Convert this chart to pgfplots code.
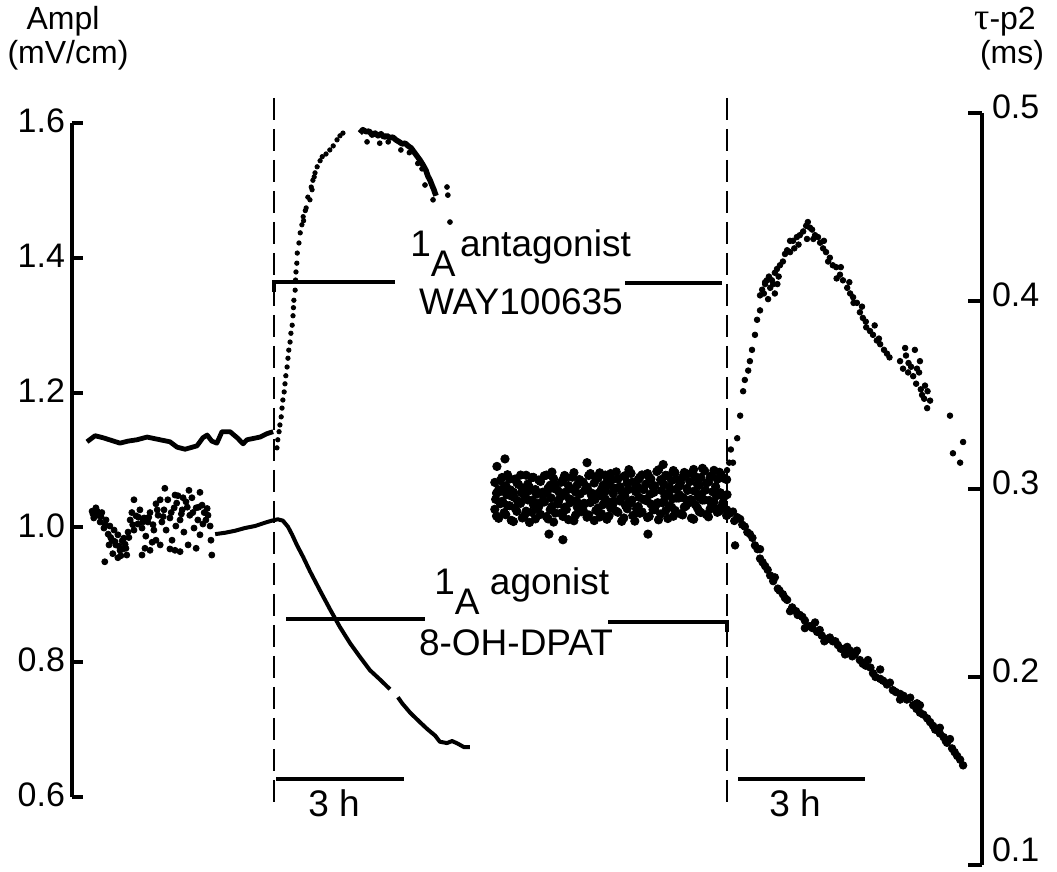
\documentclass[border=0pt]{standalone}
\usepackage{pgfplots}
\usepackage{pgfplotstable}
\pgfplotsset{compat=1.18}
\usepackage{fontspec}
\setmainfont{Liberation Sans}
\newfontfamily\greekfont{Liberation Serif}

% ---------- Ampl (mV/cm), antagonist experiment ----------
\pgfplotstableread{
h A
-4.42 1.127
-4.23 1.136
-4.04 1.133
-3.64 1.125
-3.45 1.128
-3.24 1.130
-3.00 1.134
-2.77 1.131
-2.46 1.127
-2.29 1.119
-2.10 1.116
-1.82 1.121
-1.68 1.133
-1.58 1.137
-1.47 1.128
-1.35 1.125
-1.23 1.142
-1.04 1.142
-0.87 1.133
-0.73 1.124
-0.64 1.130
-0.33 1.134
-0.17 1.139
-0.02 1.142
}\ampAbase

\pgfplotstableread{
h A
0.07 1.118
0.09 1.130
0.12 1.142
0.14 1.152
0.17 1.164
0.19 1.177
0.21 1.189
0.24 1.201
0.26 1.213
0.28 1.225
0.31 1.238
0.33 1.251
0.35 1.263
0.38 1.275
0.40 1.288
0.43 1.300
0.45 1.314
0.46 1.326
0.47 1.337
0.50 1.352
0.51 1.367
0.52 1.379
0.54 1.392
0.55 1.407
0.59 1.422
0.62 1.437
0.66 1.449
0.69 1.461
0.70 1.455
0.74 1.470
0.76 1.474
0.80 1.490
0.85 1.486
0.88 1.505
0.90 1.501
0.92 1.515
0.95 1.520
0.97 1.526
1.02 1.535
1.09 1.544
1.14 1.550
1.23 1.554
1.32 1.560
1.40 1.566
1.49 1.575
1.56 1.581
1.63 1.585
}\ampArise

\pgfplotstableread{
h A
2.03 1.585
2.10 1.590
2.18 1.587
2.25 1.588
2.32 1.582
2.39 1.585
2.46 1.581
2.53 1.584
2.60 1.579
2.67 1.581
2.74 1.578
2.81 1.579
2.88 1.575
2.96 1.572
3.03 1.569
3.10 1.570
3.17 1.566
3.24 1.563
3.31 1.557
3.38 1.551
3.45 1.545
3.52 1.538
3.59 1.530
3.64 1.521
3.69 1.515
3.74 1.507
3.78 1.501
3.83 1.492
}\ampAtop

\pgfplotstableread{
h A
2.20 1.572
2.50 1.570
2.70 1.572
3.00 1.560
3.20 1.556
3.40 1.540
3.50 1.532
3.57 1.508
3.76 1.486
4.09 1.505
4.11 1.493
4.16 1.453
}\ampAstray

% ---------- Ampl (mV/cm), agonist experiment ----------
\pgfplotstableread{
h A
-4.30 1.024
-4.26 1.014
-4.21 1.029
-4.16 1.018
-4.11 1.008
-4.07 1.022
-4.02 0.999
-3.97 1.011
-3.92 0.990
-3.88 1.002
-3.83 0.981
-3.78 0.996
-3.74 0.974
-3.69 0.989
-3.64 0.966
-3.59 0.980
-3.55 0.984
-3.50 0.969
-3.45 0.993
-3.90 0.974
-4.00 0.949
-3.81 0.961
-3.69 0.955
-3.62 0.958
-3.48 0.959
-3.40 1.011
-3.36 1.022
-3.31 0.996
-3.26 1.017
-3.22 1.005
-3.17 1.026
-3.12 0.999
-3.07 1.014
-3.03 0.987
-2.98 1.008
-2.93 1.022
-2.88 0.978
-2.84 0.996
-2.79 1.035
-2.74 1.018
-2.69 1.041
-2.69 0.974
-2.93 0.966
-3.05 0.969
-3.12 0.959
-2.65 1.008
-2.60 1.026
-2.55 0.996
-2.51 1.041
-2.46 1.014
-2.41 0.981
-2.36 1.029
-2.32 1.002
-2.27 1.047
-2.22 1.011
-2.17 1.026
-2.13 0.993
-2.08 1.038
-2.03 0.974
-1.99 1.018
-1.94 1.044
-1.89 0.999
-1.84 1.029
-1.80 1.011
-1.75 0.989
-1.70 1.033
-1.65 1.022
-1.61 1.011
-1.56 1.018
-1.51 1.002
-1.49 0.981
-1.47 0.959
-2.58 1.058
-2.34 1.048
-2.15 1.044
-2.01 1.055
-2.34 0.966
-2.22 0.964
-2.46 0.968
-1.84 0.969
-1.75 1.052
-2.79 0.981
-3.31 1.041
-4.28 1.020
-4.18 1.024
-4.09 1.016
-3.99 1.004
-3.86 0.985
-3.76 0.979
-3.66 0.972
-3.57 0.968
-3.52 0.975
-3.43 0.985
-3.34 1.004
-3.20 1.015
-3.10 1.008
-2.96 1.015
-2.86 1.004
-2.76 1.026
-2.62 1.016
-2.43 1.022
-2.30 1.036
-2.19 1.020
-2.05 1.030
-1.92 1.022
-1.78 1.030
-1.68 1.005
-1.58 1.028
}\ampBcloud

\pgfplotstableread{
h A
-1.39 0.990
-1.16 0.992
-0.92 0.995
-0.69 0.999
-0.45 1.002
-0.21 1.007
-0.05 1.010
0.09 1.012
0.21 1.010
0.33 1.001
0.43 0.989
0.54 0.974
0.69 0.956
0.85 0.935
1.09 0.906
1.32 0.879
1.56 0.852
1.80 0.828
2.03 0.808
2.27 0.788
2.51 0.774
2.74 0.760
}\ampBlineA

\pgfplotstableread{
h A
2.93 0.748
3.03 0.739
3.22 0.725
3.45 0.711
3.62 0.701
3.81 0.691
3.92 0.682
4.09 0.680
4.21 0.683
4.35 0.679
4.49 0.674
4.63 0.674
}\ampBlineB

% ---------- tau-p2 (ms), antagonist experiment: baseline band ----------
\pgfplotstableread{
h t
5.22 0.3035
5.31 0.2996
5.39 0.3061
5.48 0.3017
5.57 0.3053
5.66 0.2983
5.74 0.3034
5.83 0.3074
5.92 0.3005
6.00 0.3026
6.09 0.3061
6.18 0.2997
6.26 0.3048
6.35 0.2983
6.44 0.3074
6.53 0.3020
6.61 0.3055
6.70 0.2996
6.79 0.3036
6.87 0.3072
6.96 0.3018
7.05 0.3063
7.13 0.2984
7.22 0.3050
7.31 0.3035
7.40 0.3011
7.48 0.3082
7.57 0.3032
7.66 0.3058
7.74 0.2998
7.83 0.3074
7.92 0.3025
8.00 0.3050
8.09 0.3091
8.18 0.3012
8.27 0.3067
8.35 0.3033
8.44 0.3083
8.53 0.2999
8.61 0.3050
8.70 0.3075
8.79 0.3026
8.87 0.3062
8.96 0.3012
9.05 0.3093
9.14 0.3049
9.22 0.3024
9.31 0.3070
9.40 0.3045
9.48 0.3086
9.57 0.3012
9.66 0.3062
9.74 0.3078
9.83 0.3039
9.92 0.3104
10.01 0.3025
10.09 0.3061
10.18 0.3096
10.27 0.3037
10.35 0.3072
10.44 0.3013
10.53 0.3089
10.61 0.3059
10.70 0.3050
5.26 0.2978
5.35 0.3045
5.44 0.3009
5.52 0.3076
5.61 0.2963
5.70 0.3053
5.78 0.3024
5.87 0.2988
5.96 0.3073
6.04 0.3008
6.13 0.3062
6.22 0.2973
6.30 0.3040
6.39 0.3070
6.48 0.3005
6.57 0.3090
6.65 0.3024
6.74 0.2983
6.83 0.3049
6.91 0.3062
7.00 0.3003
7.09 0.3087
7.17 0.3022
7.26 0.3041
7.35 0.2993
7.44 0.3072
7.52 0.2977
7.61 0.3061
7.70 0.3086
7.78 0.3020
7.87 0.3039
7.96 0.3082
8.04 0.3004
8.13 0.3053
8.22 0.2988
8.31 0.3072
8.39 0.3103
8.48 0.3037
8.57 0.3020
8.65 0.3063
8.74 0.2997
8.83 0.3082
8.91 0.3053
9.00 0.3017
9.09 0.3102
9.18 0.3037
9.26 0.3073
9.35 0.3008
9.44 0.3098
9.52 0.3051
9.61 0.3034
9.70 0.3088
9.78 0.2993
9.87 0.3084
9.96 0.3066
10.05 0.3019
10.13 0.3110
10.22 0.3032
10.31 0.3063
10.40 0.3099
10.48 0.3052
10.57 0.3077
5.27 0.3120
5.46 0.3160
7.40 0.3140
9.20 0.3130
}\tauAband

% ---------- tau-p2 (ms), middle of the overlapping baseline bands ----------
\pgfplotstableread{
h t
5.24 0.2945
5.33 0.2985
5.41 0.2930
5.50 0.2970
5.59 0.2995
5.68 0.2955
5.76 0.2935
5.85 0.2980
5.94 0.2960
6.02 0.2990
6.11 0.2941
6.20 0.2976
6.28 0.2926
6.37 0.2966
6.46 0.2986
6.55 0.2952
6.63 0.3002
6.72 0.2932
6.81 0.2963
6.89 0.2983
6.98 0.2948
7.07 0.2998
7.15 0.2938
7.24 0.2974
7.33 0.2924
7.42 0.2994
7.50 0.2969
7.59 0.2944
7.68 0.2979
7.76 0.2960
7.85 0.2990
7.94 0.2930
8.02 0.2975
8.11 0.3005
8.20 0.2950
8.29 0.2966
8.37 0.2996
8.46 0.2941
8.55 0.2986
8.63 0.2956
8.72 0.3001
8.81 0.2937
8.89 0.2972
8.98 0.2982
9.07 0.2927
9.16 0.2992
9.24 0.2962
9.33 0.2977
9.42 0.2948
9.50 0.2998
9.59 0.2968
9.68 0.2953
9.76 0.3003
9.85 0.2944
9.94 0.2989
10.03 0.2959
10.11 0.2974
10.20 0.2994
10.29 0.2939
10.37 0.2985
10.46 0.2964
10.55 0.2980
10.63 0.2955
10.71 0.2970
}\tauMband

\pgfplotstableread{
h t
10.71 0.310
10.76 0.314
10.80 0.321
10.85 0.314
10.95 0.327
11.02 0.339
11.09 0.352
11.13 0.358
11.21 0.363
11.25 0.368
11.30 0.374
11.37 0.382
11.42 0.390
11.49 0.403
11.49 0.395
11.54 0.406
11.58 0.404
11.61 0.409
11.61 0.410
11.65 0.411
11.68 0.401
11.70 0.413
11.73 0.407
11.77 0.411
11.80 0.409
11.84 0.415
11.84 0.404
11.89 0.417
11.90 0.409
11.93 0.413
11.96 0.419
12.03 0.421
12.08 0.425
12.13 0.427
12.20 0.426
12.20 0.432
12.27 0.432
12.30 0.428
12.36 0.434
12.40 0.430
12.43 0.435
12.51 0.437
12.58 0.440
12.60 0.433
12.62 0.442
12.67 0.439
12.72 0.438
12.75 0.433
12.79 0.435
12.86 0.434
12.91 0.431
12.98 0.428
13.00 0.432
13.05 0.426
13.10 0.421
13.14 0.423
13.21 0.419
13.29 0.418
13.30 0.412
13.38 0.414
13.40 0.418
13.45 0.411
13.55 0.407
13.60 0.410
13.62 0.404
13.69 0.402
13.70 0.399
13.78 0.399
13.85 0.394
13.90 0.397
13.92 0.391
13.99 0.389
14.00 0.386
14.09 0.384
14.16 0.382
14.20 0.387
14.25 0.379
14.30 0.380
14.33 0.377
14.42 0.374
14.49 0.372
14.55 0.370
14.80 0.368
14.87 0.364
14.92 0.375
14.94 0.371
14.99 0.362
15.00 0.367
15.06 0.365
15.11 0.360
15.15 0.374
15.18 0.356
15.20 0.364
15.25 0.362
15.27 0.368
15.29 0.353
15.32 0.350
15.37 0.348
15.39 0.355
15.44 0.343
15.45 0.352
15.51 0.347
15.98 0.339
16.05 0.319
16.22 0.314
16.29 0.325
}\tauArise

% ---------- tau-p2 (ms), agonist experiment: baseline band ----------
\pgfplotstableread{
h t
5.22 0.2892
5.31 0.2844
5.39 0.2934
5.48 0.2863
5.57 0.2911
5.66 0.2827
5.74 0.2881
5.83 0.2924
5.92 0.2858
6.00 0.2942
6.09 0.2876
6.18 0.2841
6.26 0.2907
6.35 0.2931
6.44 0.2853
6.53 0.2890
6.61 0.2824
6.70 0.2920
6.79 0.2872
6.87 0.2903
6.96 0.2837
7.05 0.2939
7.13 0.2861
7.22 0.2915
7.31 0.2886
7.40 0.2850
7.48 0.2928
7.57 0.2832
7.66 0.2899
7.74 0.2869
7.83 0.2947
7.92 0.2857
8.00 0.2912
8.09 0.2882
8.18 0.2936
8.27 0.2846
8.35 0.2895
8.44 0.2925
8.53 0.2829
8.61 0.2907
8.70 0.2878
8.79 0.2944
8.87 0.2854
8.96 0.2890
9.05 0.2920
9.14 0.2867
9.22 0.2933
9.31 0.2843
9.40 0.2903
9.48 0.2886
9.57 0.2952
9.66 0.2862
9.74 0.2910
9.83 0.2929
9.92 0.2839
10.01 0.2899
10.09 0.2875
10.18 0.2942
10.27 0.2852
10.35 0.2918
10.44 0.2894
10.53 0.2883
10.61 0.2925
10.70 0.2859
5.26 0.2856
5.35 0.2922
5.44 0.2874
5.52 0.2911
5.61 0.2833
5.70 0.2899
5.78 0.2935
5.87 0.2846
5.96 0.2882
6.04 0.2822
6.13 0.2918
6.22 0.2895
6.30 0.2865
6.39 0.2931
6.48 0.2841
6.57 0.2908
6.65 0.2872
6.74 0.2944
6.83 0.2854
6.91 0.2891
7.00 0.2927
7.09 0.2831
7.17 0.2903
7.26 0.2879
7.35 0.2922
7.44 0.2862
7.52 0.2940
7.61 0.2886
7.70 0.2851
7.78 0.2917
7.87 0.2839
7.96 0.2899
8.04 0.2936
8.13 0.2876
8.22 0.2828
8.31 0.2912
8.39 0.2931
8.48 0.2859
8.57 0.2895
8.65 0.2871
8.74 0.2944
8.83 0.2848
8.91 0.2920
9.00 0.2890
9.09 0.2836
9.18 0.2927
9.26 0.2885
9.35 0.2909
9.44 0.2855
9.52 0.2952
9.61 0.2868
9.70 0.2904
9.78 0.2934
9.87 0.2845
9.96 0.2917
10.05 0.2881
10.13 0.2941
10.22 0.2864
10.31 0.2894
10.40 0.2930
10.48 0.2876
10.57 0.2901
6.83 0.2730
8.84 0.2760
6.50 0.2760
}\tauBband

\pgfplotstableread{
h t
10.71 0.289
10.78 0.287
10.85 0.288
10.88 0.283
10.90 0.270
10.95 0.285
11.02 0.284
11.07 0.281
11.13 0.280
11.19 0.277
11.25 0.276
11.31 0.274
11.37 0.270
11.43 0.268
11.49 0.263
11.49 0.268
11.55 0.261
11.61 0.259
11.67 0.257
11.73 0.254
11.80 0.251
11.84 0.253
11.91 0.247
11.95 0.246
12.03 0.244
12.08 0.242
12.13 0.241
12.20 0.235
12.25 0.237
12.34 0.235
12.38 0.233
12.43 0.233
12.49 0.232
12.55 0.230
12.55 0.226
12.61 0.227
12.67 0.227
12.73 0.226
12.79 0.229
12.84 0.224
12.90 0.225
12.95 0.222
13.01 0.219
13.07 0.220
13.14 0.221
13.21 0.219
13.27 0.219
13.33 0.217
13.40 0.215
13.47 0.215
13.50 0.212
13.55 0.216
13.62 0.214
13.67 0.211
13.73 0.212
13.78 0.214
13.85 0.209
13.92 0.207
13.99 0.206
14.04 0.209
14.10 0.205
14.16 0.202
14.22 0.200
14.33 0.199
14.33 0.204
14.40 0.198
14.49 0.196
14.56 0.197
14.63 0.193
14.70 0.192
14.80 0.191
14.80 0.188
14.88 0.190
14.96 0.188
15.04 0.189
15.11 0.185
15.19 0.183
15.20 0.186
15.27 0.181
15.27 0.185
15.35 0.180
15.44 0.178
15.51 0.176
15.58 0.174
15.63 0.172
15.66 0.172
15.74 0.170
15.74 0.173
15.83 0.168
15.88 0.166
15.91 0.165
15.98 0.167
16.03 0.162
16.09 0.160
16.15 0.158
16.22 0.156
16.29 0.153
}\tauBfall

\begin{document}
\begin{tikzpicture}
\useasboundingbox (0,0) rectangle (528.5pt,436pt);

% ---- left axis: Ampl ----
\begin{axis}[
  at={(36pt,37.5pt)}, anchor=south west,
  scale only axis, width=455pt, height=337pt,
  xmin=-4.775, xmax=16.737, ymin=0.6, ymax=1.6,
  axis x line=none, axis y line=left,
  axis line style={-, line width=2pt, black},
  xtick=\empty,
  ytick={0.6,0.8,1.0,1.2,1.4,1.6},
  yticklabels={0.6,0.8,1.0,1.2,1.4,1.6},
  tick align=inside, major tick length=5.5pt,
  every tick/.style={line width=2pt, black},
  yticklabel style={font=\fontsize{17}{20}\selectfont, xshift=0pt, yshift=1pt},
  clip=false,
  mark options={solid, fill=black, draw=black},
]
\addplot[black, line width=2.4pt, line join=round] table[x=h, y=A] {\ampAbase};
\addplot[black, only marks, mark=*, mark size=1.1pt] table[x=h, y=A] {\ampArise};
\addplot[black, line width=2.8pt, line join=round] table[x=h, y=A] {\ampAtop};
\addplot[black, only marks, mark=*, mark size=1.2pt] table[x=h, y=A] {\ampAstray};
\addplot[black, only marks, mark=*, mark size=1.5pt] table[x=h, y=A] {\ampBcloud};
\addplot[black, line width=2pt, line join=round] table[x=h, y=A] {\ampBlineA};
\addplot[black, line width=2pt, line join=round] table[x=h, y=A] {\ampBlineB};
\end{axis}

% ---- right axis: tau-p2 ----
\begin{axis}[
  at={(36pt,3.5pt)}, anchor=south west,
  scale only axis, width=455pt, height=376pt,
  xmin=-4.775, xmax=16.737, ymin=0.1, ymax=0.5,
  axis x line=none, axis y line=right,
  axis line style={-, line width=2pt, black},
  xtick=\empty,
  ytick={0.1,0.2,0.3,0.4,0.5},
  yticklabels={\raisebox{9pt}{0.1},0.2,0.3,0.4,0.5},
  tick align=inside, major tick length=7pt,
  every tick/.style={line width=2pt, black},
  yticklabel style={font=\fontsize{17}{20}\selectfont, xshift=1.5pt, yshift=3pt},
  clip=false,
  mark options={solid, fill=black, draw=black},
]
\addplot[black, only marks, mark=*, mark size=2.1pt] table[x=h, y=t] {\tauAband};
\addplot[black, only marks, mark=*, mark size=2.1pt] table[x=h, y=t] {\tauMband};
\addplot[black, only marks, mark=*, mark size=2.1pt] table[x=h, y=t] {\tauBband};
\addplot[black, only marks, mark=*, mark size=1.4pt] table[x=h, y=t] {\tauArise};
\addplot[black, only marks, mark=*, mark size=1.9pt] table[x=h, y=t] {\tauBfall};
\end{axis}

% ---- annotations (pixel-like frame) ----
\begin{scope}[shift={(0pt,436pt)}, x=0.5pt, y=-0.5pt]
  \draw[line width=1pt, dash pattern=on 11pt off 4.5pt] (274,98) -- (274,805);
  \draw[line width=1pt, dash pattern=on 11pt off 4.5pt] (727,98) -- (727,805);
  % antagonist bar
  \draw[line width=2pt] (274,292) -- (274,282) -- (395,282);
  \draw[line width=2pt] (625,283) -- (722,283);
  % agonist bar
  \draw[line width=2pt] (286,619) -- (425,619);
  \draw[line width=2pt] (608,622) -- (727,622) -- (727,632);
  % 3 h scale bars
  \draw[line width=2.2pt] (276,779) -- (404,779);
  \draw[line width=2.2pt] (738,779) -- (865,779);
  \begin{scope}[every node/.style={font=\fontsize{18.5}{21}\selectfont, inner sep=0pt}]
    \node[anchor=base west] at (410,257) {1\raisebox{-10pt}{A}\hspace{0.12em}antagonist};
    \node[anchor=base] at (521,315) {WAY100635};
    \node[anchor=base west] at (434,595) {1\raisebox{-10pt}{A} agonist};
    \node[anchor=base] at (516,656) {8-OH-DPAT};
    \node[anchor=base] at (334,817) {3 h};
    \node[anchor=base] at (795,817) {3 h};
  \end{scope}
  \begin{scope}[every node/.style={font=\fontsize{16}{18}\selectfont, inner sep=0pt}]
    \node[anchor=base] at (63,30) {Ampl};
    \node[anchor=base] at (68,64) {(mV/cm)};
    \node[anchor=base] at (1005,30) {{\greekfont\fontsize{19}{20}\selectfont τ}-p2};
    \node[anchor=base] at (1012,64) {(ms)};
  \end{scope}
\end{scope}
\end{tikzpicture}
\end{document}
